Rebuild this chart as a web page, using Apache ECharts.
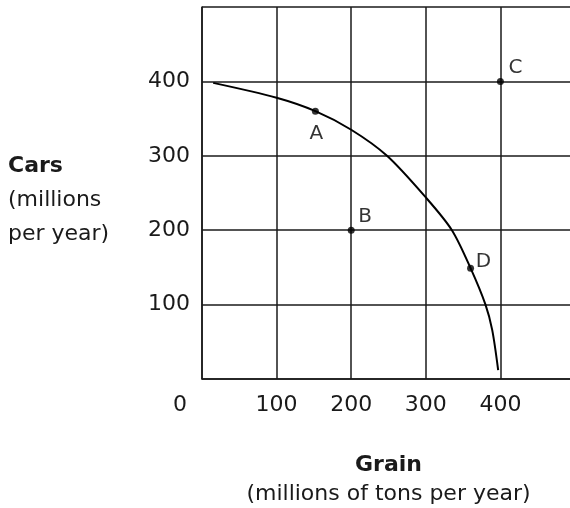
<!DOCTYPE html>
<html>
<head>
<meta charset="utf-8">
<script src="https://cdn.jsdelivr.net/npm/echarts@6/dist/echarts.min.js"></script>
<style>
  html, body { margin: 0; padding: 0; background: #fff; }
  #chart { width: 570px; height: 508px; }
</style>
</head>
<body>
<div id="chart"></div>
<script>
// axis ticks
let xTicks = [0, 100, 200, 300, 400, 500]
let yTicks = [0, 100, 200, 300, 400, 500]

// production possibilities frontier (grain, cars)
let curveGrain = [15, 100, 152, 200, 248, 300, 335, 360, 380, 389, 397]
let curveCars = [398, 378, 360, 335, 300, 244, 200, 149, 100, 66, 12]

// labelled points
let pointNames = ["A", "B", "C", "D"]
let pointGrain = [152, 200, 400, 360]
let pointCars = [360, 200, 400, 149]

let labelOffsets = {
  A: [1, 23],
  B: [14, -13],
  C: [15, -14],
  D: [13, -6]
}

let font = "DejaVu Sans"
let ink = "#1a1a1a"

function initChart() {
  let curveData = []
  for (let i = 0; i < curveGrain.length; i++) {
    curveData.push([curveGrain[i], curveCars[i]])
  }

  let pointData = []
  for (let i = 0; i < pointNames.length; i++) {
    pointData.push({
      name: pointNames[i],
      value: [pointGrain[i], pointCars[i]],
      label: { offset: labelOffsets[pointNames[i]] }
    })
  }

  let myChart = echarts.init(document.getElementById("chart"))
  let option = {
    animation: false,
    textStyle: { fontFamily: font, color: ink },
    grid: {
      left: 202,
      top: 7,
      width: 373,
      height: 372,
      outerBoundsMode: "none",
      containLabel: false
    },
    xAxis: {
      type: "value",
      min: xTicks[0],
      max: xTicks[xTicks.length - 1],
      interval: 100,
      axisLine: { show: true, lineStyle: { color: ink, width: 1.5 } },
      axisTick: { show: false },
      splitLine: { show: true, lineStyle: { color: ink, width: 1.5 } },
      axisLabel: {
        margin: 15,
        fontSize: 22,
        color: ink,
        fontFamily: font,
        formatter: function (v) {
          if (v === 0) return "{z|0}"
          if (v === 500) return ""
          return String(v)
        },
        rich: {
          z: { fontSize: 22, fontFamily: font, color: ink, padding: [0, 44, 0, 0] }
        }
      },
      name: "{b|Grain}\n{n|(millions of tons per year)}",
      nameLocation: "middle",
      nameGap: 72,
      nameTextStyle: {
        rich: {
          b: { fontSize: 22, fontWeight: "bold", fontFamily: font, color: ink, lineHeight: 29, align: "center" },
          n: { fontSize: 22, fontFamily: font, color: ink, lineHeight: 29, align: "center" }
        }
      }
    },
    yAxis: {
      type: "value",
      min: yTicks[0],
      max: yTicks[yTicks.length - 1],
      interval: 100,
      axisLine: { show: true, lineStyle: { color: ink, width: 1.5 } },
      axisTick: { show: false },
      splitLine: { show: true, lineStyle: { color: ink, width: 1.5 } },
      axisLabel: {
        margin: 12,
        fontSize: 22,
        color: ink,
        fontFamily: font,
        formatter: function (v) {
          if (v === 0 || v === 500) return ""
          return String(v)
        }
      }
    },
    graphic: [
      {
        type: "text",
        left: 8,
        top: 155,
        style: {
          text: "{b|Cars}\n{n|(millions}\n{n|per year)}",
          rich: {
            b: { fontSize: 22, fontWeight: "bold", fontFamily: font, fill: ink, lineHeight: 34 },
            n: { fontSize: 22, fontFamily: font, fill: ink, lineHeight: 34 }
          }
        }
      }
    ],
    series: [
      {
        type: "line",
        data: curveData,
        smooth: 0.3,
        showSymbol: false,
        lineStyle: { color: "#000", width: 2 },
        z: 3
      },
      {
        type: "scatter",
        data: pointData,
        symbolSize: 7,
        itemStyle: { color: "#000" },
        label: {
          show: true,
          position: "inside",
          formatter: "{b}",
          fontSize: 20,
          fontFamily: font,
          color: "#000"
        },
        z: 4
      }
    ]
  }
  myChart.setOption(option)
}

initChart()
</script>
</body>
</html>
